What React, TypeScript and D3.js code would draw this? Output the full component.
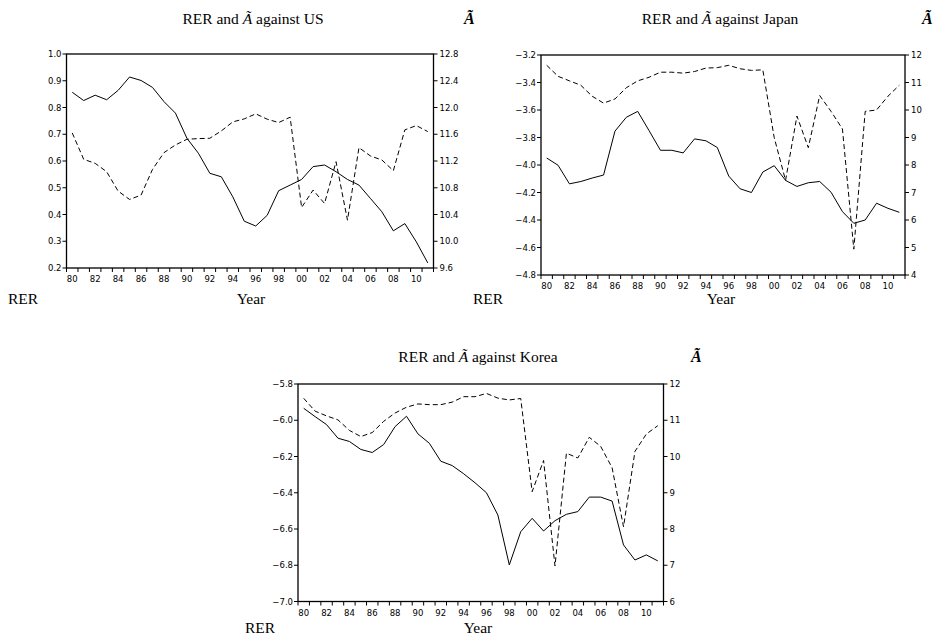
import React from "react";
import * as d3 from "d3";

const years = [1980, 1981, 1982, 1983, 1984, 1985, 1986, 1987, 1988, 1989, 1990, 1991, 1992, 1993, 1994, 1995, 1996, 1997, 1998, 1999, 2000, 2001, 2002, 2003, 2004, 2005, 2006, 2007, 2008, 2009, 2010, 2011];
const yearTickLabels = ["80", "82", "84", "86", "88", "90", "92", "94", "96", "98", "00", "02", "04", "06", "08", "10"];

const usRER = [0.857, 0.826, 0.846, 0.829, 0.864, 0.914, 0.901, 0.875, 0.822, 0.779, 0.685, 0.629, 0.554, 0.541, 0.466, 0.375, 0.357, 0.397, 0.489, 0.51, 0.531, 0.579, 0.585, 0.56, 0.531, 0.51, 0.46, 0.41, 0.339, 0.366, 0.298, 0.219];
const usA = [11.62, 11.225, 11.165, 11.04, 10.75, 10.625, 10.69, 11.075, 11.325, 11.44, 11.525, 11.535, 11.54, 11.65, 11.785, 11.83, 11.905, 11.825, 11.775, 11.855, 10.505, 10.765, 10.565, 11.19, 10.315, 11.4, 11.275, 11.215, 11.055, 11.665, 11.73, 11.64];
const usLeftTicks = [0.2, 0.3, 0.4, 0.5, 0.6, 0.7, 0.8, 0.9, 1.0];
const usRightTicks = [9.6, 10.0, 10.4, 10.8, 11.2, 11.6, 12.0, 12.4, 12.8];

const jpRER = [-3.949, -4.002, -4.137, -4.12, -4.095, -4.073, -3.754, -3.653, -3.61, -3.75, -3.893, -3.893, -3.912, -3.81, -3.824, -3.873, -4.08, -4.173, -4.2, -4.051, -4.005, -4.112, -4.156, -4.129, -4.12, -4.198, -4.339, -4.424, -4.4, -4.278, -4.315, -4.344];
const jpA = [11.625, 11.225, 11.06, 10.9, 10.5, 10.25, 10.4, 10.81, 11.06, 11.19, 11.375, 11.375, 11.34, 11.4, 11.525, 11.54, 11.625, 11.5, 11.44, 11.46, 9.0, 7.44, 9.78, 8.63, 10.525, 9.95, 9.31, 4.94, 9.95, 10.0, 10.5, 10.9];
const jpLeftTicks = [-4.8, -4.6, -4.4, -4.2, -4.0, -3.8, -3.6, -3.4, -3.2];
const jpRightTicks = [4, 5, 6, 7, 8, 9, 10, 11, 12];

const krRER = [-5.934, -5.98, -6.024, -6.099, -6.117, -6.161, -6.178, -6.134, -6.035, -5.978, -6.075, -6.127, -6.226, -6.25, -6.295, -6.345, -6.4, -6.523, -6.798, -6.615, -6.541, -6.611, -6.554, -6.519, -6.504, -6.424, -6.424, -6.446, -6.688, -6.771, -6.743, -6.776];
const krA = [11.605, 11.25, 11.12, 11.01, 10.72, 10.55, 10.66, 10.97, 11.2, 11.36, 11.45, 11.43, 11.43, 11.5, 11.65, 11.65, 11.74, 11.61, 11.56, 11.6, 9.03, 9.89, 6.98, 10.09, 9.96, 10.53, 10.28, 9.69, 8.06, 10.14, 10.62, 10.85];
const krLeftTicks = [-7.0, -6.8, -6.6, -6.4, -6.2, -6.0, -5.8];
const krRightTicks = [6, 7, 8, 9, 10, 11, 12];

const TICK_FONT = "'DejaVu Sans', Arial, sans-serif";
const SERIF = "'Liberation Serif', 'Times New Roman', serif";

type PanelProps = {
  country: string;
  x0: number; x1: number; y0: number; y1: number;
  rer: number[]; a: number[];
  leftTicks: number[]; rightTicks: number[];
  rightFmt: (v: number) => string;
  titleX: number; titleY: number;
  aLabelX: number;
  rerX: number; yearX: number; bottomY: number;
};

function Panel(p: PanelProps) {
  const x = d3.scaleLinear().domain([1979.5, 2011.5]).range([p.x0, p.x1]);
  const lExt = d3.extent(p.leftTicks) as [number, number];
  const rExt = d3.extent(p.rightTicks) as [number, number];
  const yL = d3.scaleLinear().domain(lExt).range([p.y1, p.y0]);
  const yR = d3.scaleLinear().domain(rExt).range([p.y1, p.y0]);
  const lineL = d3.line<number>().x((_, i) => x(years[i])).y((d) => yL(d));
  const lineR = d3.line<number>().x((_, i) => x(years[i])).y((d) => yR(d));
  const boundaries = d3.range(years[0] - 0.5, years[years.length - 1] + 1, 1);
  const labelYears = years.filter((_, i) => i % 2 === 0);
  const fmtL = d3.format(".1f");
  return (
    <g>
      <text x={p.titleX} y={p.titleY} textAnchor="middle" fontFamily={SERIF} fontSize={15.5}>
        RER and <tspan fontStyle="italic">Ã</tspan> against {p.country}
      </text>
      <text x={p.aLabelX} y={p.titleY} fontFamily={SERIF} fontSize={16} fontStyle="italic" fontWeight="bold">Ã</text>
      <path d={lineR(p.a) || ""} fill="none" stroke="#000" strokeWidth={1} strokeDasharray="5,3" />
      <path d={lineL(p.rer) || ""} fill="none" stroke="#000" strokeWidth={1} />
      <rect x={p.x0} y={p.y0} width={p.x1 - p.x0} height={p.y1 - p.y0} fill="none" stroke="#000" strokeWidth={1.3} />
      {p.leftTicks.map((t) => (
        <g key={"l" + t}>
          <line x1={p.x0 - 4} x2={p.x0} y1={yL(t)} y2={yL(t)} stroke="#000" strokeWidth={1} />
          <text x={p.x0 - 5} y={yL(t) + 3} textAnchor="end" fontFamily={TICK_FONT} fontSize={8.5}>{fmtL(t)}</text>
        </g>
      ))}
      {p.rightTicks.map((t) => (
        <g key={"r" + t}>
          <line x1={p.x1} x2={p.x1 + 4} y1={yR(t)} y2={yR(t)} stroke="#000" strokeWidth={1} />
          <text x={p.x1 + 6} y={yR(t) + 3} textAnchor="start" fontFamily={TICK_FONT} fontSize={8.5}>{p.rightFmt(t)}</text>
        </g>
      ))}
      {boundaries.map((b) => (
        <line key={"b" + b} x1={x(b)} x2={x(b)} y1={p.y1} y2={p.y1 + 4} stroke="#000" strokeWidth={1} />
      ))}
      {labelYears.map((yv, i) => (
        <text key={"x" + yv} x={x(yv)} y={p.y1 + 14} textAnchor="middle" fontFamily={TICK_FONT} fontSize={8.5}>{yearTickLabels[i]}</text>
      ))}
      <text x={p.rerX} y={p.bottomY} fontFamily={SERIF} fontSize={15.5}>RER</text>
      <text x={p.yearX} y={p.bottomY} textAnchor="middle" fontFamily={SERIF} fontSize={15.5}>Year</text>
    </g>
  );
}

export default function App() {
  const f1 = d3.format(".1f");
  const f0 = d3.format("d");
  return (
    <svg width={936} height={638} viewBox="0 0 936 638" style={{ position: "absolute", left: 0, top: 0, background: "#fff" }}>
      <rect x={0} y={0} width={936} height={638} fill="#fff" />
      <Panel country="US" x0={66.5} x1={433.5} y0={54} y1={268} rer={usRER} a={usA}
        leftTicks={usLeftTicks} rightTicks={usRightTicks} rightFmt={f1}
        titleX={253} titleY={24} aLabelX={464} rerX={8} yearX={251} bottomY={304} />
      <Panel country="Japan" x0={541} x1={905} y0={55} y1={275} rer={jpRER} a={jpA}
        leftTicks={jpLeftTicks} rightTicks={jpRightTicks} rightFmt={f0}
        titleX={720} titleY={24} aLabelX={922} rerX={473} yearX={721} bottomY={304} />
      <Panel country="Korea" x0={298} x1={663.5} y0={384} y1={601.5} rer={krRER} a={krA}
        leftTicks={krLeftTicks} rightTicks={krRightTicks} rightFmt={f0}
        titleX={478} titleY={362} aLabelX={691} rerX={245} yearX={478} bottomY={633} />
    </svg>
  );
}
